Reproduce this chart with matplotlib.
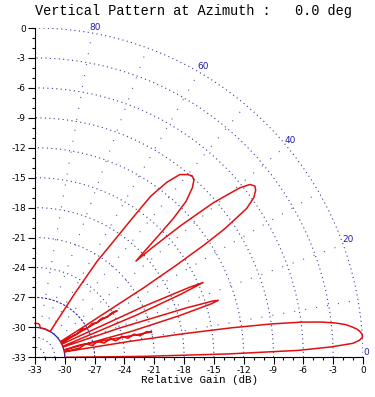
import numpy as np
import matplotlib
matplotlib.use("Agg")
import matplotlib.pyplot as plt

plt.rcParams['axes.unicode_minus'] = False

# vertical pattern: elevation (deg) and relative gain (dB)
# (the two small lobes near 12 and 29 deg are drawn hatched in the original,
#  so their points zig-zag across the lobe)
elev = [0.0, 0.5, 1.0, 1.5, 2.0, 2.5, 3.0, 3.5, 4.0, 4.5, 5.0, 5.5, 6.0, 6.5,
        7.0, 7.5, 8.0, 8.5, 9.0, 9.5, 10.5,
        11.7, 14.8, 11.6, 14.2, 11.55, 13.7, 11.5, 13.4, 11.5, 13.1, 11.5, 12.9,
        12.2, 15.3,
        14.0, 15.0, 16.0, 16.8, 17.2, 17.5, 18.0, 19.0, 20.0,
        21.5, 22.5, 23.3, 23.9, 24.3, 25.0, 26.0,
        28.0, 29.0, 30.8, 29.0, 30.5, 28.95, 30.2, 28.9, 30.05, 29.45, 29.0, 30.5, 31.5,
        32.0, 32.5, 33.0, 33.5, 34.0, 35.0, 36.0, 37.0, 37.8, 38.7, 39.5,
        40.8, 42.0, 43.0, 43.5,
        44.0, 44.5, 45.0, 45.8, 47.0, 48.0, 49.0, 50.0, 51.5, 52.9, 54.2,
        55.0, 56.0, 57.0, 58.0, 59.5,
        70.0, 80.0, 82.0, 85.0, 88.0, 90.0]
gain = [-30.0, -22.0, -13.5, -6.5, -3.2, -1.0, -0.3, 0.0, 0.0, -0.2, -0.5, -1.0, -1.6, -2.6,
        -4.0, -6.0, -9.0, -13.0, -18.0, -23.3, -30.0,
        -28.4, -27.7, -27.1, -26.5, -25.9, -25.2, -24.7, -24.0, -23.45, -22.75, -22.2, -21.5,
        -21.0, -28.3,
        -30.0, -23.0, -18.0, -14.5, -13.7, -14.2, -17.0, -24.0, -30.0,
        -30.0, -22.0, -17.0, -14.5, -16.0, -21.0, -30.0,
        -30.0, -28.2, -27.5, -27.0, -26.3, -25.9, -25.2, -24.7, -24.0, -23.5, -28.2, -30.0, -30.0,
        -27.0, -20.0, -16.0, -12.5, -10.0, -7.0, -5.8, -5.2, -5.0, -5.3, -6.3,
        -9.3, -13.3, -17.0, -19.0,
        -17.5, -15.5, -13.3, -11.2, -9.8, -9.1, -8.9, -9.1, -9.6, -11.0, -13.1,
        -16.3, -19.5, -21.5, -25.5, -30.0,
        -30.0, -30.0, -29.7, -29.6, -29.6, -29.6]

ring_db = list(range(-30, 1, 3))      # gain circles
inner_rings = [-32, -31]              # small circles inside the floor
spoke_deg = [10, 20, 30, 40, 50, 60, 70, 80]
angle_labels = [0, 20, 40, 60, 80]
tick_db = list(range(-33, 1, 3))

offset = 33.0   # radius = gain + 33

fig = plt.figure(figsize=(3.75, 3.97), dpi=100)
ax = fig.add_axes([35 / 375, 1 - 357.3 / 397, 328 / 375, 329.3 / 397])

t = np.radians(np.linspace(0, 90, 300))
for g in ring_db:
    r = g + offset
    if g == -30:
        ax.plot(-33 + r * np.cos(t), -33 + r * np.sin(t), color='#1a1ad0', lw=0.9)
    elif g == -27:
        ax.plot(-33 + r * np.cos(t), -33 + r * np.sin(t), color='#2a2ab0', lw=0.8,
                ls=(0, (2, 1.5)))
    else:
        ax.plot(-33 + r * np.cos(t), -33 + r * np.sin(t), color='#3a3a9a', lw=0.8,
                ls=(0, (1, 3)))
for g in inner_rings:
    r = g + offset
    ax.plot(-33 + r * np.cos(t), -33 + r * np.sin(t), color='#3a3a9a', lw=0.8,
            ls=(0, (1, 3)))

for a in spoke_deg:
    ar = np.radians(a)
    ax.plot([-33 + 3 * np.cos(ar), -33 + 33 * np.cos(ar)],
            [-33 + 3 * np.sin(ar), -33 + 33 * np.sin(ar)],
            color='#5a5aa8', lw=0.8, ls=(0, (1, 9)))

# angle labels just outside the 0 dB circle
for a in angle_labels:
    ar = np.radians(a * 0.985 + 0.8)
    rr = 33.65 if a > 0 else 33.3
    ax.text(-33 + rr * np.cos(ar), -33 + rr * np.sin(ar), str(a), color='#2020b0',
            fontsize=6.5, ha='center', va='center', clip_on=False)

# pattern
er = np.radians(elev)
rr = np.array(gain) + offset
ax.plot(-33 + rr * np.cos(er), -33 + rr * np.sin(er), color='#e01010', lw=1.1,
        clip_on=False)

ax.set_xlim(-33, 0)
ax.set_ylim(-33, 0)
ax.set_xticks(tick_db)
ax.set_yticks(tick_db)
ax.set_xticks(range(-33, 1), minor=True)
ax.set_yticks(range(-33, 1), minor=True)
ax.tick_params(which='major', length=5, width=0.8, labelsize=6.5, pad=1.5)
ax.tick_params(which='minor', length=2.5, width=0.8)
for s in ['top', 'right']:
    ax.spines[s].set_visible(False)
for s in ['left', 'bottom']:
    ax.spines[s].set_linewidth(0.8)

ax.set_xlabel('Relative Gain (dB)', family='Liberation Mono', fontsize=7.8, labelpad=0)
fig.text(35 / 375, 1 - 11 / 397, 'Vertical Pattern at Azimuth :   0.0 deg',
         family='Liberation Mono', fontsize=9.8, ha='left', va='center')

fig.savefig('out.png', dpi=100)
